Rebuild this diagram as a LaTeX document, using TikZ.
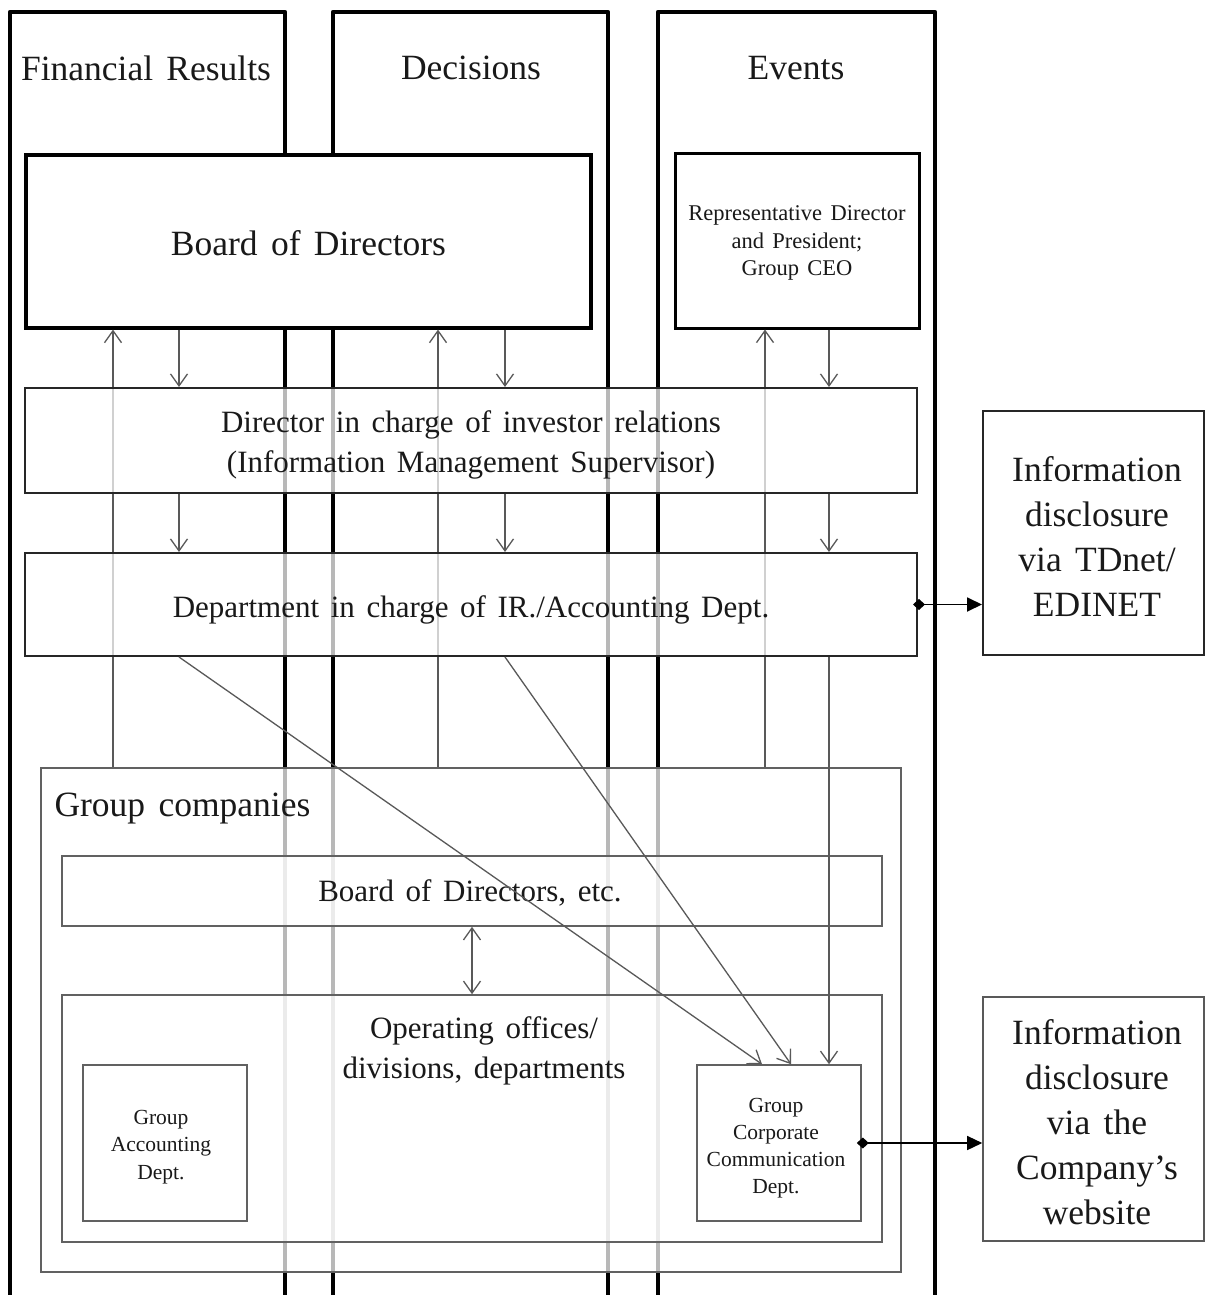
\documentclass[tikz,border=0pt]{standalone}
\usepackage{fontspec}
\setmainfont{Liberation Serif}[WordSpace=1.5]
\usetikzlibrary{arrows.meta}
\tikzset{
  colline/.style={line width=4.8pt, draw=black, line join=round},
  bigbox/.style={draw=black, line width=3.2pt, fill=white, inner sep=0pt},
  midbox/.style={draw=black!85, line width=2pt, fill=white, fill opacity=0.72, text opacity=1, inner sep=0pt},
  grpbox/.style={draw=black!62, line width=1.6pt, fill=white, fill opacity=0.72, text opacity=1, inner sep=0pt},
  conn/.style={draw=black!65, line width=1.3pt},
  barb/.style={-{Straight Barb[length=12pt,width=17pt]}},
  dbarb/.style={{Straight Barb[length=12pt,width=17pt]}-{Straight Barb[length=12pt,width=17pt]}},
  outarrow/.style={draw=black, line width=1.8pt, {Diamond[length=12pt,width=11pt]}-{Triangle[length=15pt,width=14pt]}},
  big/.style={font=\fontsize{35.5}{45}\selectfont, align=center, text=black!90},
  mid/.style={font=\fontsize{31}{40.5}\selectfont, align=center, text=black!90},
  small/.style={font=\fontsize{21.5}{27.2}\selectfont, align=center, text=black!90},
}
\begin{document}
\begin{tikzpicture}[x=1pt,y=-1pt]
\useasboundingbox (0,0) rectangle (1205,1295);
\fill[white] (0,0) rectangle (1205,1295);

% columns
\draw[colline] (10,1300) -- (10,12) -- (285,12) -- (285,1300);
\draw[colline] (333,1300) -- (333,12) -- (608,12) -- (608,1300);
\draw[colline] (658,1300) -- (658,12) -- (935,12) -- (935,1300);
\node[big] (tfin) at (146,68) {Financial Results};
\node[big] (tdec) at (471,68) {Decisions};
\node[big] (tevt) at (796,68) {Events};

% x positions of connectors
\coordinate (u1) at (113,0);
\coordinate (d1) at (179,0);
\coordinate (u2) at (438,0);
\coordinate (d2) at (505,0);
\coordinate (u3) at (765,0);
\coordinate (d3) at (829,0);
\coordinate (e1) at (762,0);
\coordinate (e2) at (791,0);
\coordinate (da) at (472,0);

% top boxes
\node[bigbox, minimum width=565pt, minimum height=173pt] (bod) at (308.5,241.5) {};
\node[big] (bodtext) at (308.5,243.5) {Board of Directors};
\node[bigbox, line width=3pt, minimum width=244pt, minimum height=175pt] (rep) at (797,240.5) {};
\node[small, font=\fontsize{22.5}{27.5}\selectfont] (reptext) at (797,243) {Representative Director\\and President;\\Group CEO};

% group companies top (needed for up arrows)
\coordinate (gctop) at (0,768);

% up arrows (drawn beneath translucent boxes)
\draw[conn, barb] (gctop -| u1) -- (bod.south -| u1);
\draw[conn, barb] (gctop -| u2) -- (bod.south -| u2);
\draw[conn, barb] (gctop -| u3) -- (rep.south -| u3);

% middle boxes
\node[midbox, minimum width=892pt, minimum height=105pt] (dir) at (471,440.5) {};
\node[mid] (dirtext) at (471,445) {Director in charge of investor relations\\(Information Management Supervisor)};
\node[midbox, minimum width=892pt, minimum height=103pt] (dept) at (471,604.5) {};
\node[mid] (depttext) at (471,610) {Department in charge of IR./Accounting Dept.};

% down arrows
\draw[conn, barb] (bod.south -| d1) -- (dir.north -| d1);
\draw[conn, barb] (bod.south -| d2) -- (dir.north -| d2);
\draw[conn, barb] (rep.south -| d3) -- (dir.north -| d3);
\draw[conn, barb] (dir.south -| d1) -- (dept.north -| d1);
\draw[conn, barb] (dir.south -| d2) -- (dept.north -| d2);
\draw[conn, barb] (dir.south -| d3) -- (dept.north -| d3);

% group companies
\node[grpbox, minimum width=860pt, minimum height=504pt] (gc) at (471,1020) {};
\node[big, anchor=west] (gctext) at (51,809) {Group companies};
\node[grpbox, minimum width=820pt, minimum height=70pt] (gbod) at (472,891) {};
\node[mid] (gbodtext) at (470,893) {Board of Directors, etc.};
\node[grpbox, minimum width=820pt, minimum height=247pt] (ops) at (472,1118.5) {};
\node[mid] (opstext) at (484,1051) {Operating offices/\\divisions, departments};
\node[grpbox, minimum width=164pt, minimum height=156pt] (gacc) at (165,1143) {};
\node[small] (gacctext) at (161,1147) {Group\\Accounting\\Dept.};
\node[grpbox, minimum width=164pt, minimum height=156pt] (gcc) at (779,1143) {};
\node[small] (gcctext) at (776,1148) {Group\\Corporate\\Communication\\Dept.};

\draw[conn, dbarb] (gbod.south -| da) -- (ops.north -| da);

% diagonal arrows and down arrow to GCC
\draw[conn, barb] (dept.south -| d1) -- (gcc.north -| e1);
\draw[conn, barb] (dept.south -| d2) -- (gcc.north -| e2);
\draw[conn, barb] (dept.south -| d3) -- (gcc.north -| d3);

% disclosure boxes
\node[draw=black!85, line width=2pt, fill=white, inner sep=0pt, minimum width=221pt, minimum height=244pt] (tdnet) at (1093.5,533) {};
\node[big] (tdnettext) at (1097,537) {Information\\disclosure\\via TDnet/\\EDINET};
\node[draw=black!65, line width=1.6pt, fill=white, inner sep=0pt, minimum width=221pt, minimum height=244pt] (web) at (1093.5,1119) {};
\node[big] (webtext) at (1097,1122) {Information\\disclosure\\via the\\Company’s\\website};

\draw[outarrow] ([xshift=-5pt]dept.east) -- (tdnet.west |- dept.east);
\draw[outarrow, line width=1.4pt] ([xshift=-5pt]gcc.east) -- (web.west |- gcc.east);
\end{tikzpicture}
\end{document}
